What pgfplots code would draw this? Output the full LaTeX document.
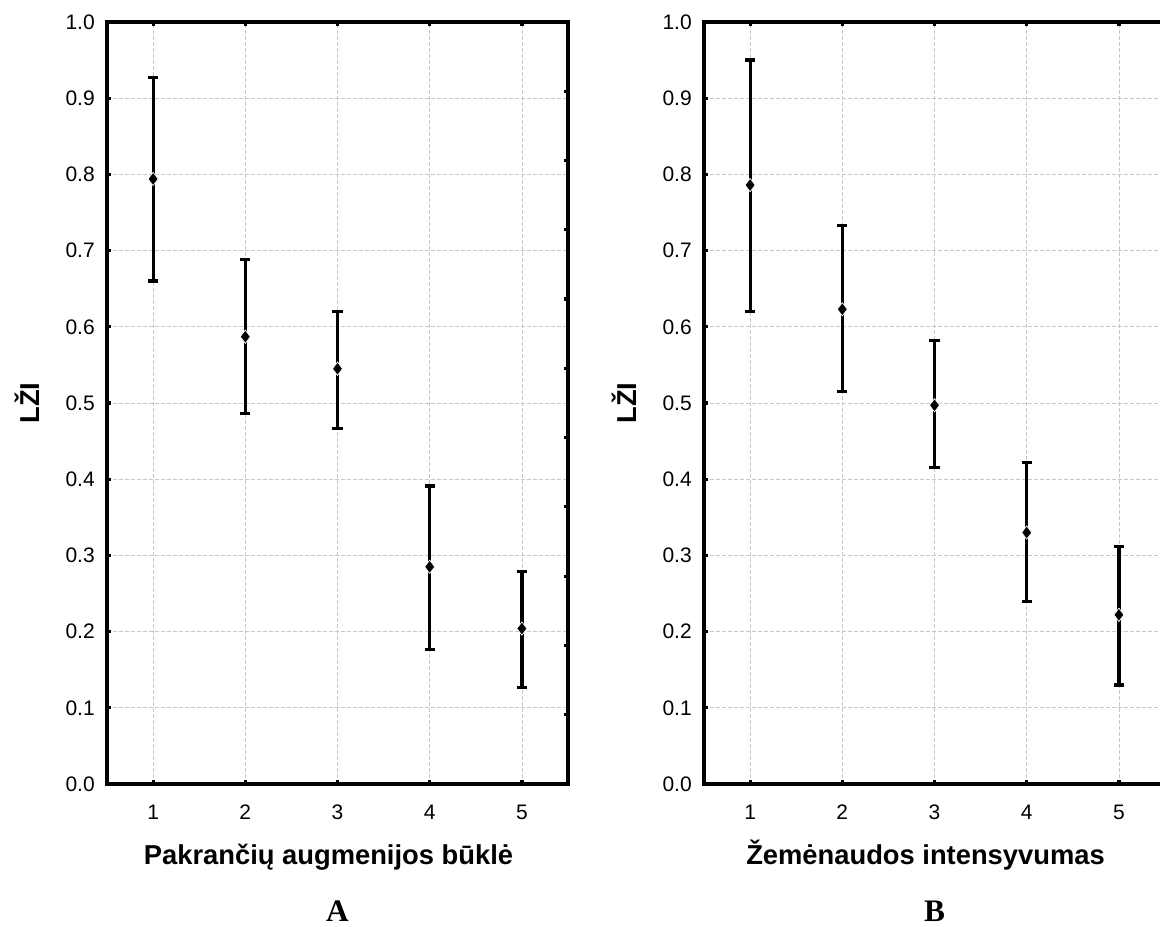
\documentclass[border=0pt]{standalone}
\usepackage{fontspec}
\setmainfont{Liberation Sans}
\newfontfamily\timesfont{Liberation Serif}
\usepackage{pgfplots}
\pgfplotsset{compat=1.18}
\usepackage{pgfplotstable}

\definecolor{gridgray}{RGB}{200,200,200}

\pgfplotstableread{
x y ep em
1 0.794 0.133 0.134
2 0.587 0.101 0.101
3 0.545 0.075 0.078
4 0.285 0.106 0.109
5 0.204 0.075 0.077
}\dataA

\pgfplotstableread{
x y ep em
1 0.786 0.164 0.166
2 0.623 0.110 0.108
3 0.497 0.085 0.082
4 0.330 0.092 0.090
5 0.222 0.090 0.092
}\dataB

\pgfplotsset{
  panel/.style={
    scale only axis, width=345.75pt, height=571.5pt,
    xmin=0.5, xmax=5.5, ymin=0, ymax=1,
    xtick={1,2,3,4,5},
    ytick={0,0.1,0.2,0.3,0.4,0.5,0.6,0.7,0.8,0.9,1.0},
    xtick pos=both, ytick pos=left, tick align=inside,
    major tick length=3pt,
    axis line style={line width=2.4pt},
    every tick/.style={black, line width=2.4pt},
    grid=major,
    major grid style={gridgray, dash pattern=on 3pt off 1.5pt, line width=0.6pt},
    /pgf/number format/assume math mode=true,
    tick label style={font=\fontsize{15.75}{18}\selectfont},
    y tick label style={/pgf/number format/.cd, fixed, fixed zerofill, precision=1, /tikz/.cd, inner sep=0pt, xshift=-9pt},
    x tick label style={inner sep=0pt, yshift=-15.5pt},
    label style={font=\bfseries\fontsize{20.5}{24}\selectfont},
    xlabel style={at={(axis description cs:0.4805,-0.1063)}, anchor=base},
    ylabel style={at={(axis description cs:-0.172,0.5)}, anchor=center},
    title style={at={(axis description cs:0.5,-0.185)}, anchor=south, inner sep=0pt, yshift=-3.5pt, font=\timesfont\bfseries\fontsize{23.5}{27}\selectfont},
    clip=false,
  },
  ebars/.style={
    only marks, mark=none,
    error bars/.cd, y dir=both, y explicit,
    error bar style={black, line width=2.4pt},
    error mark options={black, line width=2.4pt, mark size=3.8pt, rotate=90},
  },
  means/.style={only marks, mark=diamond*,
    mark options={mark size=5pt, fill=black, draw=white, line width=0.5pt}},
}

\begin{document}
\begin{tikzpicture}
\useasboundingbox (0,0) rectangle (870pt,695.25pt);

% Panel A
\begin{axis}[panel, at={(80.25pt,107.25pt)}, anchor=south west,
  xlabel={Pakrančių augmenijos būklė}, ylabel={LŽI}, title={A}]
\addplot[ebars] table[x=x, y=y, y error plus=ep, y error minus=em] {\dataA};
\addplot[means] table[x=x, y=y] {\dataA};
\end{axis}
% secondary right-side ticks of panel A
\begin{axis}[scale only axis, width=345.75pt, height=571.5pt,
  at={(80.25pt,107.25pt)}, anchor=south west,
  xmin=0, xmax=1, ymin=0, ymax=11, hide x axis,
  axis y line*=right, ytick={1,2,3,4,5,6,7,8,9,10}, yticklabels={},
  tick align=inside, major tick length=3pt,
  axis line style={line width=2.4pt},
  every tick/.style={black, line width=2.4pt}]
\addplot[draw=none, mark=none] coordinates {(0,0) (1,11)};
\end{axis}

% Panel B
\begin{axis}[panel, at={(528pt,107.25pt)}, anchor=south west,
  xlabel={Žemėnaudos intensyvumas}, ylabel={LŽI}, title={B}]
\addplot[ebars] table[x=x, y=y, y error plus=ep, y error minus=em] {\dataB};
\addplot[means] table[x=x, y=y] {\dataB};
\end{axis}
\end{tikzpicture}
\end{document}
